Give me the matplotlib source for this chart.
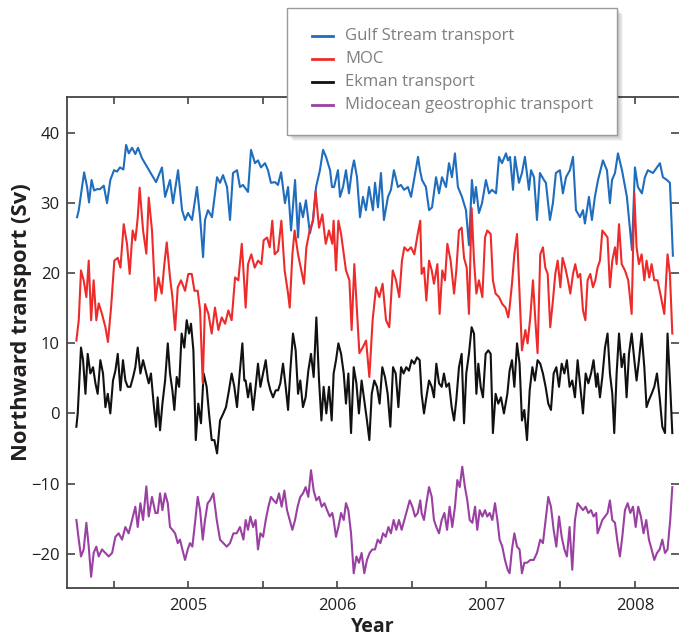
import matplotlib
matplotlib.use('Agg')
import matplotlib.pyplot as plt
from matplotlib.patches import Rectangle
from matplotlib.lines import Line2D
from matplotlib.ticker import MultipleLocator

plt.rcParams['font.family'] = ['Open Sans', 'DejaVu Sans']

# ── data ───────────────────────────────────────────────────────────
gs_t = [2004.253, 2004.264, 2004.300, 2004.320, 2004.333, 2004.350, 2004.367, 2004.387, 2004.407, 2004.432,
        2004.454, 2004.476, 2004.501, 2004.521, 2004.541, 2004.564, 2004.582, 2004.600, 2004.622, 2004.644,
        2004.662, 2004.689, 2004.783,
        2004.823, 2004.844, 2004.877, 2004.897, 2004.931, 2004.958, 2004.978, 2004.998, 2005.025, 2005.058,
        2005.079, 2005.099, 2005.112, 2005.132, 2005.159, 2005.193, 2005.213, 2005.233, 2005.260, 2005.280,
        2005.300, 2005.327, 2005.347, 2005.367,
        2005.401, 2005.421, 2005.448, 2005.468, 2005.488, 2005.515, 2005.535, 2005.555, 2005.582, 2005.602,
        2005.623, 2005.649, 2005.670, 2005.690, 2005.717, 2005.737, 2005.750, 2005.770, 2005.790, 2005.817,
        2005.837, 2005.858, 2005.884, 2005.905, 2005.925, 2005.952, 2005.965,
        2005.979, 2006.005, 2006.019, 2006.039, 2006.059, 2006.079, 2006.099, 2006.113, 2006.133, 2006.153,
        2006.173, 2006.193, 2006.214, 2006.240, 2006.254, 2006.274, 2006.294, 2006.314, 2006.341, 2006.361,
        2006.381, 2006.408, 2006.428, 2006.449, 2006.475, 2006.496, 2006.516, 2006.543, 2006.556,
        2006.570, 2006.596, 2006.617, 2006.637, 2006.664, 2006.684, 2006.704, 2006.731, 2006.751, 2006.771,
        2006.791, 2006.811, 2006.838, 2006.865, 2006.885, 2006.905, 2006.919, 2006.932, 2006.952, 2006.973,
        2006.999, 2007.020, 2007.040, 2007.067, 2007.087, 2007.107, 2007.134, 2007.147,
        2007.161, 2007.181, 2007.194, 2007.221, 2007.241, 2007.261, 2007.288, 2007.302, 2007.322, 2007.342,
        2007.362, 2007.389, 2007.402, 2007.429, 2007.449, 2007.469, 2007.496, 2007.516, 2007.537, 2007.563,
        2007.584, 2007.604, 2007.631, 2007.651, 2007.664, 2007.691, 2007.711, 2007.731,
        2007.752, 2007.785, 2007.812, 2007.832, 2007.846, 2007.866, 2007.886, 2007.913, 2007.946, 2007.980,
        2008.000, 2008.020, 2008.047, 2008.067, 2008.087, 2008.121, 2008.148, 2008.168, 2008.188, 2008.215,
        2008.235, 2008.255]
gs_v = [28.0, 29.0, 34.4, 32.3, 30.1, 33.3, 31.8, 32.0, 32.0, 32.5,
        30.0, 33.3, 34.7, 34.5, 35.1, 34.8, 38.3, 37.1, 37.9, 37.0,
        37.9, 36.4, 33.0,
        35.1, 30.9, 33.3, 30.0, 34.7, 29.0, 27.6, 28.6, 27.6, 32.3,
        28.0, 22.3, 27.6, 29.0, 28.0, 33.7, 32.9, 34.0, 32.3, 27.6,
        34.3, 34.7, 32.3, 32.6,
        31.6, 37.6, 35.7, 36.1, 35.1, 35.7, 34.7, 32.9, 33.0, 32.6,
        34.4, 30.0, 32.3, 26.1, 33.3, 25.1, 30.0, 28.0, 30.4, 25.7,
        27.6, 32.3, 34.7, 37.6, 36.6, 34.7, 32.3,
        32.3, 34.7, 30.9, 32.3, 34.7, 31.4, 34.7, 36.1, 33.7, 28.0,
        30.9, 29.0, 32.3, 29.0, 32.9, 29.4, 34.3, 27.6, 30.9, 31.9,
        34.7, 32.3, 32.6, 31.9, 32.3, 30.9, 33.3, 36.6, 34.7,
        33.3, 32.3, 29.0, 29.4, 33.7, 31.4, 33.7, 32.3, 35.7, 33.7,
        37.1, 32.3, 30.9, 29.0, 24.0, 33.3, 30.0, 32.3, 28.6, 30.0,
        33.3, 31.4, 31.9, 31.4, 36.6, 35.7, 37.1, 36.1,
        36.6, 31.9, 36.6, 32.9, 34.3, 36.6, 31.9, 34.7, 33.7, 27.6,
        34.3, 33.3, 32.9, 27.6, 30.0, 34.3, 34.7, 31.4, 33.7, 34.7,
        36.6, 29.0, 28.0, 29.0, 27.1, 30.9, 27.6, 30.9,
        33.3, 36.1, 34.7, 30.0, 33.3, 34.3, 37.1, 34.7, 30.9, 23.3,
        35.1, 32.3, 31.4, 33.7, 34.7, 34.3, 35.1, 35.7, 33.7, 33.3,
        32.9, 22.5]

moc_t = [2004.248, 2004.264, 2004.279, 2004.297, 2004.315, 2004.331, 2004.347, 2004.364, 2004.382, 2004.398,
         2004.420, 2004.443, 2004.460, 2004.481, 2004.503, 2004.526, 2004.544, 2004.566, 2004.588, 2004.606,
         2004.626, 2004.644, 2004.660, 2004.673, 2004.696, 2004.718, 2004.734, 2004.756, 2004.779,
         2004.799, 2004.821, 2004.839, 2004.855, 2004.877, 2004.893, 2004.911, 2004.929, 2004.951, 2004.978,
         2005.000, 2005.023, 2005.041, 2005.063, 2005.079, 2005.097, 2005.112, 2005.135, 2005.157, 2005.179,
         2005.202, 2005.224, 2005.247, 2005.269, 2005.291, 2005.314, 2005.336, 2005.359, 2005.376,
         2005.385, 2005.401, 2005.423, 2005.446, 2005.468, 2005.491, 2005.506, 2005.529, 2005.547, 2005.564,
         2005.580, 2005.603, 2005.625, 2005.647, 2005.670, 2005.681, 2005.699, 2005.714, 2005.737, 2005.759,
         2005.777, 2005.793, 2005.815, 2005.838, 2005.855, 2005.878, 2005.900, 2005.923, 2005.945, 2005.967,
         2005.976, 2005.992, 2006.008, 2006.026, 2006.044, 2006.059, 2006.082, 2006.097, 2006.115, 2006.133,
         2006.149, 2006.171, 2006.194, 2006.216, 2006.238, 2006.261, 2006.283, 2006.305, 2006.328, 2006.350,
         2006.373, 2006.395, 2006.417, 2006.435, 2006.451, 2006.473, 2006.496, 2006.518, 2006.541, 2006.558,
         2006.567, 2006.583, 2006.599, 2006.617, 2006.635, 2006.650, 2006.673, 2006.688, 2006.706, 2006.724,
         2006.740, 2006.762, 2006.785, 2006.800, 2006.818, 2006.836, 2006.852, 2006.870, 2006.885, 2006.903,
         2006.919, 2006.935, 2006.952, 2006.975, 2006.993, 2007.008, 2007.031, 2007.046, 2007.064, 2007.087,
         2007.109, 2007.131, 2007.149,
         2007.158, 2007.174, 2007.190, 2007.208, 2007.225, 2007.241, 2007.264, 2007.279, 2007.297, 2007.315,
         2007.331, 2007.346, 2007.364, 2007.382, 2007.398, 2007.414, 2007.431, 2007.449, 2007.465, 2007.481,
         2007.499, 2007.514, 2007.532, 2007.550, 2007.566, 2007.584, 2007.599, 2007.617, 2007.633, 2007.651,
         2007.667, 2007.682, 2007.700, 2007.718, 2007.734,
         2007.749, 2007.765, 2007.781, 2007.799, 2007.816, 2007.832, 2007.848, 2007.866, 2007.877, 2007.893,
         2007.911, 2007.933, 2007.955, 2007.978, 2007.996, 2008.011, 2008.027, 2008.045, 2008.063, 2008.078,
         2008.096, 2008.112, 2008.130, 2008.152, 2008.175, 2008.197, 2008.219, 2008.235, 2008.251]
moc_v = [10.4, 13.3, 20.4, 19.0, 16.6, 21.8, 13.3, 19.0, 13.3, 15.7,
         14.2, 12.3, 10.2, 15.1, 21.8, 22.2, 20.8, 27.0, 24.2, 19.9,
         26.1, 24.7, 27.9, 32.2, 26.1, 22.8, 30.8, 26.1, 16.1,
         19.4, 17.1, 21.3, 24.4, 19.4, 16.6, 11.9, 18.0, 19.0, 17.5,
         19.9, 19.9, 17.5, 17.5, 14.7, 4.3, 15.6, 14.2, 11.4, 15.1,
         11.9, 13.7, 12.8, 14.7, 13.3, 19.4, 19.0, 24.2, 18.5,
         15.1, 21.3, 22.7, 20.8, 21.8, 21.3, 24.7, 25.1, 23.7, 27.5,
         22.7, 23.2, 27.5, 20.4, 17.1, 15.1, 22.7, 26.1, 22.7, 20.4,
         18.5, 23.7, 26.1, 27.5, 31.7, 26.5, 28.4, 24.2, 26.1, 24.2,
         27.5, 20.4, 27.5, 25.6, 22.7, 20.4, 19.0, 11.9, 21.3, 14.7,
         8.6, 9.4, 10.4, 5.2, 13.3, 18.0, 16.6, 18.5, 13.3, 12.3,
         20.4, 19.0, 16.6, 21.8, 23.7, 23.2, 23.7, 22.7, 25.6, 27.5,
         19.9, 20.8, 16.1, 21.8, 20.4, 18.5, 21.3, 14.2, 20.4, 19.0,
         24.2, 21.8, 17.1, 20.4, 26.1, 26.5, 22.2, 20.8, 14.2, 29.3,
         21.8, 17.1, 19.0, 16.6, 25.1, 26.1, 25.6, 19.0, 17.1, 16.6,
         15.6, 15.1, 13.7,
         15.1, 18.5, 22.7, 25.6, 17.1, 9.0, 11.9, 10.0, 13.7, 19.0,
         13.3, 8.6, 22.7, 23.7, 20.8, 19.9, 12.3, 16.1, 19.9, 21.8,
         18.0, 22.2, 20.8, 19.0, 17.1, 19.9, 21.3, 19.4, 19.9, 14.7,
         13.3, 19.0, 19.9, 18.0, 19.0,
         20.8, 21.8, 26.1, 25.6, 25.1, 18.0, 21.8, 23.7, 21.3, 27.0,
         21.3, 20.4, 19.0, 14.2, 31.4, 23.7, 21.3, 22.7, 19.0, 21.8,
         19.4, 21.3, 19.0, 19.0, 16.6, 14.2, 22.7, 19.9, 11.4]

ek_t = [2004.248, 2004.257, 2004.270, 2004.279, 2004.293, 2004.309, 2004.324, 2004.342, 2004.360, 2004.376,
        2004.391, 2004.409, 2004.427, 2004.443, 2004.459, 2004.476, 2004.494, 2004.510, 2004.526, 2004.544,
        2004.561, 2004.577, 2004.593, 2004.611, 2004.629, 2004.644, 2004.660, 2004.678, 2004.696, 2004.718,
        2004.734, 2004.749, 2004.767, 2004.783,
        2004.794, 2004.810, 2004.826, 2004.844, 2004.862, 2004.877, 2004.893, 2004.906, 2004.922, 2004.938,
        2004.955, 2004.973, 2004.989, 2005.005, 2005.018, 2005.034, 2005.050, 2005.067, 2005.085, 2005.103,
        2005.123, 2005.139, 2005.157, 2005.175, 2005.193, 2005.213, 2005.235, 2005.253, 2005.273, 2005.291,
        2005.309, 2005.327, 2005.345, 2005.363, 2005.376,
        2005.385, 2005.401, 2005.417, 2005.435, 2005.452, 2005.468, 2005.484, 2005.502, 2005.520, 2005.535,
        2005.551, 2005.569, 2005.587, 2005.603, 2005.618, 2005.636, 2005.654, 2005.670, 2005.685, 2005.703,
        2005.721, 2005.737, 2005.752, 2005.770, 2005.788, 2005.806, 2005.824, 2005.842, 2005.860, 2005.878,
        2005.894, 2005.909, 2005.927, 2005.945, 2005.963,
        2005.976, 2005.992, 2006.008, 2006.026, 2006.044, 2006.059, 2006.075, 2006.093, 2006.111, 2006.129,
        2006.146, 2006.164, 2006.182, 2006.200, 2006.216, 2006.232, 2006.249, 2006.267, 2006.285, 2006.303,
        2006.321, 2006.339, 2006.357, 2006.375, 2006.393, 2006.411, 2006.429, 2006.446, 2006.464, 2006.482,
        2006.500, 2006.518, 2006.536, 2006.554,
        2006.567, 2006.583, 2006.599, 2006.617, 2006.635, 2006.650, 2006.666, 2006.684, 2006.702, 2006.717,
        2006.733, 2006.751, 2006.769, 2006.785, 2006.800, 2006.818, 2006.836, 2006.852, 2006.867, 2006.885,
        2006.903, 2006.919, 2006.935, 2006.948, 2006.964, 2006.979, 2006.997, 2007.015, 2007.031, 2007.046,
        2007.064, 2007.082, 2007.100, 2007.120, 2007.143,
        2007.158, 2007.174, 2007.190, 2007.208, 2007.225, 2007.241, 2007.257, 2007.275, 2007.293, 2007.311,
        2007.328, 2007.346, 2007.364, 2007.382, 2007.400, 2007.418, 2007.436, 2007.454, 2007.472, 2007.490,
        2007.508, 2007.526, 2007.543, 2007.561, 2007.579, 2007.597, 2007.615, 2007.633, 2007.651, 2007.669,
        2007.687, 2007.705, 2007.722, 2007.740,
        2007.749, 2007.765, 2007.781, 2007.799, 2007.816, 2007.832, 2007.848, 2007.861, 2007.877, 2007.893,
        2007.911, 2007.928, 2007.944, 2007.960, 2007.978, 2007.996, 2008.011, 2008.027, 2008.045, 2008.063,
        2008.078, 2008.094, 2008.112, 2008.130, 2008.148, 2008.166, 2008.184, 2008.202, 2008.219, 2008.237,
        2008.251]
ek_v = [-1.9, 0.0, 5.7, 9.4, 7.6, 2.8, 8.5, 5.7, 6.6, 4.3,
        2.8, 7.6, 5.7, 0.9, 2.8, 0.0, 4.7, 6.1, 8.5, 3.3,
        7.6, 4.7, 3.8, 3.8, 5.2, 6.6, 9.4, 5.7, 7.6, 5.7,
        4.3, 5.7, 1.4, -1.9,
        2.3, -2.4, 1.4, 4.7, 10.0, 5.7, 3.3, 0.5, 5.2, 3.8,
        11.4, 9.4, 13.3, 11.4, 12.8, 9.0, -3.8, 1.4, -1.4, 5.7,
        3.8, 0.0, -3.8, -3.8, -5.7, -1.0, 0.0, 0.9, 3.3, 5.7,
        3.8, 0.9, 5.7, 10.0, 4.7,
        4.7, 2.3, 4.3, 0.5, 3.8, 7.1, 3.8, 5.7, 7.6, 4.7,
        3.3, 2.3, 3.3, 3.3, 4.3, 7.1, 3.8, 0.5, 6.1, 11.4,
        9.0, 2.8, 4.7, 0.9, 2.3, 6.1, 8.5, 5.2, 13.7, 4.7,
        -1.0, 3.8, 0.0, 3.8, -1.0,
        5.7, 7.6, 10.0, 8.5, 5.7, 1.4, 5.7, -2.8, 6.6, 4.3,
        0.0, 4.7, 1.9, -1.0, -3.8, 2.8, 4.7, 3.8, 1.4, 6.6,
        5.2, 2.8, -1.9, 6.6, 5.7, 0.9, 6.6, 5.7, 6.6, 6.1,
        7.6, 7.1, 8.0, 7.6,
        2.8, 0.0, 2.3, 4.7, 3.8, 2.3, 7.1, 4.3, 3.8, 5.7,
        3.8, 4.3, 0.9, -1.0, 1.9, 6.6, 8.5, -1.4, 5.7, 8.5,
        12.3, 11.4, 2.8, 7.1, 3.8, 2.3, 8.5, 9.0, 8.5, -2.8,
        2.8, 1.4, 2.3, 0.0, 2.8,
        6.1, 7.6, 3.8, 10.0, 7.1, -1.0, 0.5, -3.8, 3.3, 6.6,
        4.7, 7.6, 7.1, 5.7, 3.8, 1.4, 0.5, 5.7, 6.6, 3.8,
        7.1, 5.7, 7.6, 3.8, 4.7, 2.3, 7.6, 3.8, 0.0, 5.7,
        4.3, 5.7, 7.6, 3.8,
        5.7, 2.3, 5.2, 9.4, 11.4, 5.7, 2.8, -2.8, 5.7, 11.4,
        6.6, 8.5, 2.3, 8.5, 11.4, 7.6, 4.7, 7.6, 11.4, 6.6,
        0.9, 1.9, 2.8, 3.8, 5.7, 2.3, -1.9, -2.8, 11.4, 3.8,
        -2.8]

mid_t = [2004.248, 2004.264, 2004.279, 2004.297, 2004.315, 2004.331, 2004.347, 2004.364, 2004.382, 2004.398,
         2004.420, 2004.443, 2004.465, 2004.488, 2004.510, 2004.532, 2004.555, 2004.577, 2004.599, 2004.622,
         2004.644, 2004.660, 2004.678, 2004.696, 2004.718, 2004.734, 2004.756, 2004.779,
         2004.794, 2004.810, 2004.826, 2004.844, 2004.862, 2004.877, 2004.893, 2004.911, 2004.929, 2004.944,
         2004.960, 2004.978, 2004.996, 2005.011, 2005.027, 2005.045, 2005.063, 2005.079, 2005.097, 2005.112,
         2005.130, 2005.146, 2005.168, 2005.191, 2005.213, 2005.235, 2005.258, 2005.280, 2005.303, 2005.325,
         2005.347, 2005.370,
         2005.385, 2005.401, 2005.417, 2005.435, 2005.452, 2005.468, 2005.484, 2005.502, 2005.520, 2005.538,
         2005.555, 2005.573, 2005.591, 2005.609, 2005.627, 2005.645, 2005.663, 2005.681, 2005.699, 2005.717,
         2005.734, 2005.752, 2005.770, 2005.788, 2005.806, 2005.824, 2005.842, 2005.860, 2005.878, 2005.896,
         2005.914, 2005.932, 2005.950, 2005.967,
         2005.976, 2005.992, 2006.008, 2006.026, 2006.044, 2006.059, 2006.075, 2006.093, 2006.111, 2006.129,
         2006.146, 2006.164, 2006.182, 2006.200, 2006.218, 2006.236, 2006.254, 2006.272, 2006.290, 2006.308,
         2006.326, 2006.344, 2006.361, 2006.379, 2006.397, 2006.415, 2006.433, 2006.451, 2006.469, 2006.487,
         2006.505, 2006.523, 2006.541, 2006.558,
         2006.567, 2006.583, 2006.599, 2006.617, 2006.635, 2006.650, 2006.666, 2006.684, 2006.702, 2006.720,
         2006.738, 2006.755, 2006.773, 2006.791, 2006.807, 2006.823, 2006.840, 2006.858, 2006.874, 2006.890,
         2006.908, 2006.926, 2006.941, 2006.957, 2006.975, 2006.993, 2007.008, 2007.024, 2007.042, 2007.060,
         2007.076, 2007.091, 2007.109, 2007.127, 2007.145,
         2007.158, 2007.174, 2007.190, 2007.208, 2007.225, 2007.241, 2007.257, 2007.275, 2007.297, 2007.320,
         2007.342, 2007.364, 2007.382, 2007.400, 2007.418, 2007.436, 2007.454, 2007.472, 2007.490, 2007.508,
         2007.526, 2007.543, 2007.561, 2007.579, 2007.597, 2007.615, 2007.633, 2007.651, 2007.669, 2007.687,
         2007.705, 2007.722, 2007.740,
         2007.749, 2007.765, 2007.781, 2007.799, 2007.816, 2007.832, 2007.848, 2007.866, 2007.884, 2007.899,
         2007.915, 2007.933, 2007.951, 2007.969, 2007.987, 2008.005, 2008.022, 2008.040, 2008.058, 2008.076,
         2008.094, 2008.112, 2008.130, 2008.148, 2008.166, 2008.184, 2008.202, 2008.219, 2008.237, 2008.251]
mid_v = [-15.2, -18.0, -20.4, -19.4, -15.6, -19.0, -23.3, -19.9, -19.0, -20.4,
         -19.4, -19.9, -20.4, -19.9, -17.6, -17.1, -18.0, -16.2, -17.1, -15.2,
         -13.3, -16.2, -12.8, -15.2, -10.4, -14.7, -11.9, -14.2,
         -14.2, -11.4, -13.8, -11.4, -12.8, -16.2, -16.6, -17.1, -18.5, -18.0,
         -19.4, -20.9, -19.4, -18.5, -19.0, -15.6, -11.9, -13.8, -18.0, -15.2,
         -12.8, -12.4, -11.4, -15.2, -18.0, -18.5, -19.0, -18.5, -17.1, -17.1,
         -16.2, -18.0,
         -15.2, -16.6, -14.7, -16.2, -15.2, -19.4, -17.1, -17.6, -15.2, -13.3,
         -11.9, -12.4, -12.8, -11.4, -13.3, -11.0, -13.8, -15.2, -16.6, -15.2,
         -13.3, -11.9, -11.4, -10.5, -11.9, -8.1, -11.0, -12.4, -11.9, -13.3,
         -12.8, -13.8, -14.7, -14.2,
         -15.2, -17.6, -16.2, -14.2, -15.2, -12.8, -13.8, -17.1, -22.8, -20.4,
         -21.3, -19.9, -22.8, -20.9, -19.9, -19.4, -19.4, -18.0, -18.5, -17.1,
         -17.6, -16.2, -17.1, -15.2, -16.6, -15.2, -16.6, -15.2, -13.8, -12.4,
         -13.3, -14.7, -14.2, -12.4,
         -14.2, -15.2, -12.8, -10.5, -11.9, -15.2, -16.2, -17.1, -15.2, -14.2,
         -16.6, -13.3, -16.2, -13.3, -9.5, -10.5, -7.6, -10.5, -12.4, -15.2,
         -15.6, -13.3, -16.6, -13.8, -14.7, -13.8, -14.7, -14.2, -15.2, -12.8,
         -15.2, -18.0, -19.0, -20.9, -22.3,
         -22.8, -19.4, -17.1, -19.0, -19.4, -22.8, -21.3, -21.3, -20.9, -20.9,
         -19.9, -18.0, -18.5, -15.2, -11.9, -13.3, -16.6, -19.0, -14.7, -17.6,
         -19.4, -20.4, -16.2, -22.3, -15.2, -12.8, -13.3, -13.8, -13.3, -14.2,
         -13.8, -14.7, -14.2,
         -17.1, -16.2, -15.2, -14.7, -14.2, -12.4, -15.2, -15.6, -18.5, -20.4,
         -17.6, -13.8, -12.8, -14.2, -13.3, -16.2, -13.3, -14.7, -17.1, -15.2,
         -18.0, -19.4, -20.9, -19.9, -19.4, -18.0, -19.9, -19.4, -15.2, -10.5]

labels = ['Gulf Stream transport', 'MOC', 'Ekman transport', 'Midocean geostrophic transport']
colors = ['#1f6dbd', '#ee2b2b', '#111111', '#9b40a3']
year_ticks = [2005, 2006, 2007, 2008]
sv_ticks = [-20, -10, 0, 10, 20, 30, 40]

W, H = 679, 635
fig = plt.figure(figsize=(W / 100, H / 100), dpi=100)
fig.patch.set_facecolor('white')
ax = fig.add_axes([66.7 / W, 1 - 588 / H, 1 - 66.7 / W, (588 - 97.3) / H])

# drawing order: red ends up on top
ax.plot(mid_t, mid_v, color=colors[3], lw=1.5, zorder=2)
ax.plot(ek_t, ek_v, color=colors[2], lw=1.5, zorder=3)
ax.plot(gs_t, gs_v, color=colors[0], lw=1.5, zorder=4)
ax.plot(moc_t, moc_v, color=colors[1], lw=1.5, zorder=5)

ax.set_xlim(2004.183, 2008.296)
ax.set_ylim(-24.9, 45.1)
ax.set_xticks(year_ticks)
ax.set_xticklabels([str(y) for y in year_ticks])
ax.xaxis.set_minor_locator(MultipleLocator(0.5))
ax.set_yticks(sv_ticks)

spine_c = '#444444'
for s in ['left', 'bottom', 'top']:
    ax.spines[s].set_color(spine_c)
    ax.spines[s].set_linewidth(1.3)
ax.spines['right'].set_visible(False)

ax.tick_params(which='both', direction='in', top=True, right=True,
               length=5, width=1.2, color=spine_c)
ax.tick_params(axis='y', length=6)
ax.tick_params(axis='x', which='both', pad=7)
ax.tick_params(axis='y', pad=5)
ax.tick_params(labelsize=12, labelcolor='#231f20')

ax.set_xlabel('Year', fontsize=14, fontweight='bold', color='#231f20', labelpad=2)
ax.set_ylabel('Northward transport (Sv)', fontsize=15.8, fontweight='bold', color='#231f20')
ax.yaxis.set_label_coords(-0.057, 0.542)

# ── legend box drawn in figure pixels ──────────────────────────────
def px(x, y):
    return x / W, 1 - y / H

bx0, by0, bx1, by1 = 287, 8, 617, 135
for k in range(1, 7):
    sh = Rectangle(px(bx0 + k, by1 + k), (bx1 - bx0) / W, (by1 - by0) / H,
                   transform=fig.transFigure, facecolor='black', edgecolor='none',
                   alpha=0.045, zorder=20)
    fig.add_artist(sh)
box = Rectangle(px(bx0, by1), (bx1 - bx0) / W, (by1 - by0) / H,
                transform=fig.transFigure, facecolor='white', edgecolor='#9a9a9a',
                lw=1.0, zorder=21)
fig.add_artist(box)

rows_y = [36, 59.3, 81.7, 105]
for lbl, c, ry in zip(labels, colors, rows_y):
    xa, ya = px(311.7, ry)
    xb, _ = px(333.3, ry)
    fig.add_artist(Line2D([xa, xb], [ya, ya], transform=fig.transFigure,
                          color=c, lw=2.0, zorder=22))
    tx, ty = px(345, ry)
    fig.text(tx, ty, lbl, ha='left', va='center', fontsize=12,
             color='#7f7f7f', zorder=22)

fig.savefig('out.png', dpi=100)
